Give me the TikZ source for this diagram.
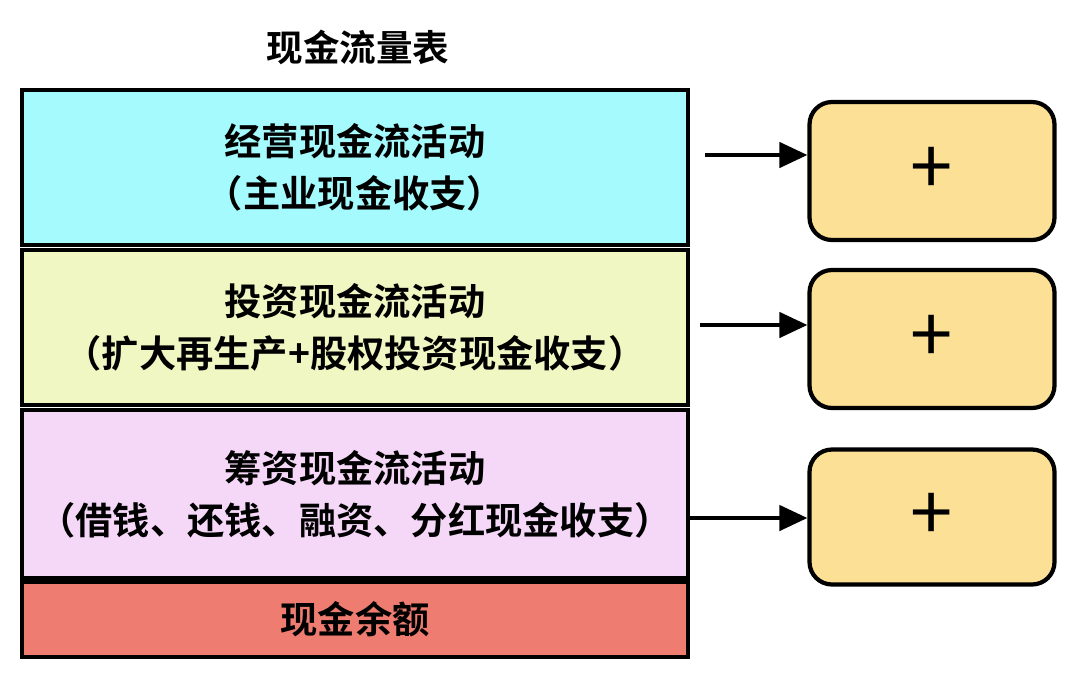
\documentclass[tikz,border=0pt]{standalone}
\usepackage{fontspec}
\setmainfont{Noto Sans CJK SC}[BoldFont={Noto Sans CJK SC Bold}]
\usetikzlibrary{arrows.meta}
\definecolor{cA}{HTML}{A5FAFD}
\definecolor{cB}{HTML}{F0F7C2}
\definecolor{cC}{HTML}{F5D8F8}
\definecolor{cD}{HTML}{EE7C70}
\definecolor{cY}{HTML}{FBE096}
\begin{document}
\begin{tikzpicture}[x=0.025cm,y=-0.025cm,
  row/.style={draw=black,line width=2.4pt,font=\bfseries\fontsize{26.5}{37}\selectfont,align=center,inner sep=0pt},
  plus/.style={draw=black,line width=3pt,fill=cY,rounded corners=16pt,font=\fontsize{54}{54}\selectfont,inner sep=0pt},
  arr/.style={line width=2.8pt,-{Triangle[length=20pt,width=18pt]}}]
\useasboundingbox (0,0) rectangle (1080,680);
\node[font=\bfseries\fontsize{26}{30}\selectfont] (t) at (358,47) {现金流量表};
\node[row,fill=cA,minimum width=666*0.025cm,minimum height=155*0.025cm] (a) at (355,167.5) {经营现金流活动\\（主业现金收支）};
\node[row,fill=cB,minimum width=666*0.025cm,minimum height=155*0.025cm] (b) at (355,327.5) {投资现金流活动\\（扩大再生产+股权投资现金收支）};
\node[row,fill=cC,minimum width=666*0.025cm,minimum height=168*0.025cm] (c) at (355,494) {筹资现金流活动\\（借钱、还钱、融资、分红现金收支）};
\node[row,fill=cD,minimum width=666*0.025cm,minimum height=75*0.025cm] (d) at (355,619.5) {现金余额};
\node[plus,minimum width=245*0.025cm,minimum height=138*0.025cm] (p1) at (932,171) {+};
\node[plus,minimum width=245*0.025cm,minimum height=138*0.025cm] (p2) at (932,339) {+};
\node[plus,minimum width=245*0.025cm,minimum height=135*0.025cm] (p3) at (932,517) {+};
\coordinate (s1) at (705,155);
\coordinate (s2) at (700,325);
\coordinate (s3) at (690,518);
\draw[arr] (s1) -- (s1 -| p1.west);
\draw[arr] (s2) -- (s2 -| p2.west);
\draw[arr] (s3) -- (s3 -| p3.west);
\end{tikzpicture}
\end{document}
